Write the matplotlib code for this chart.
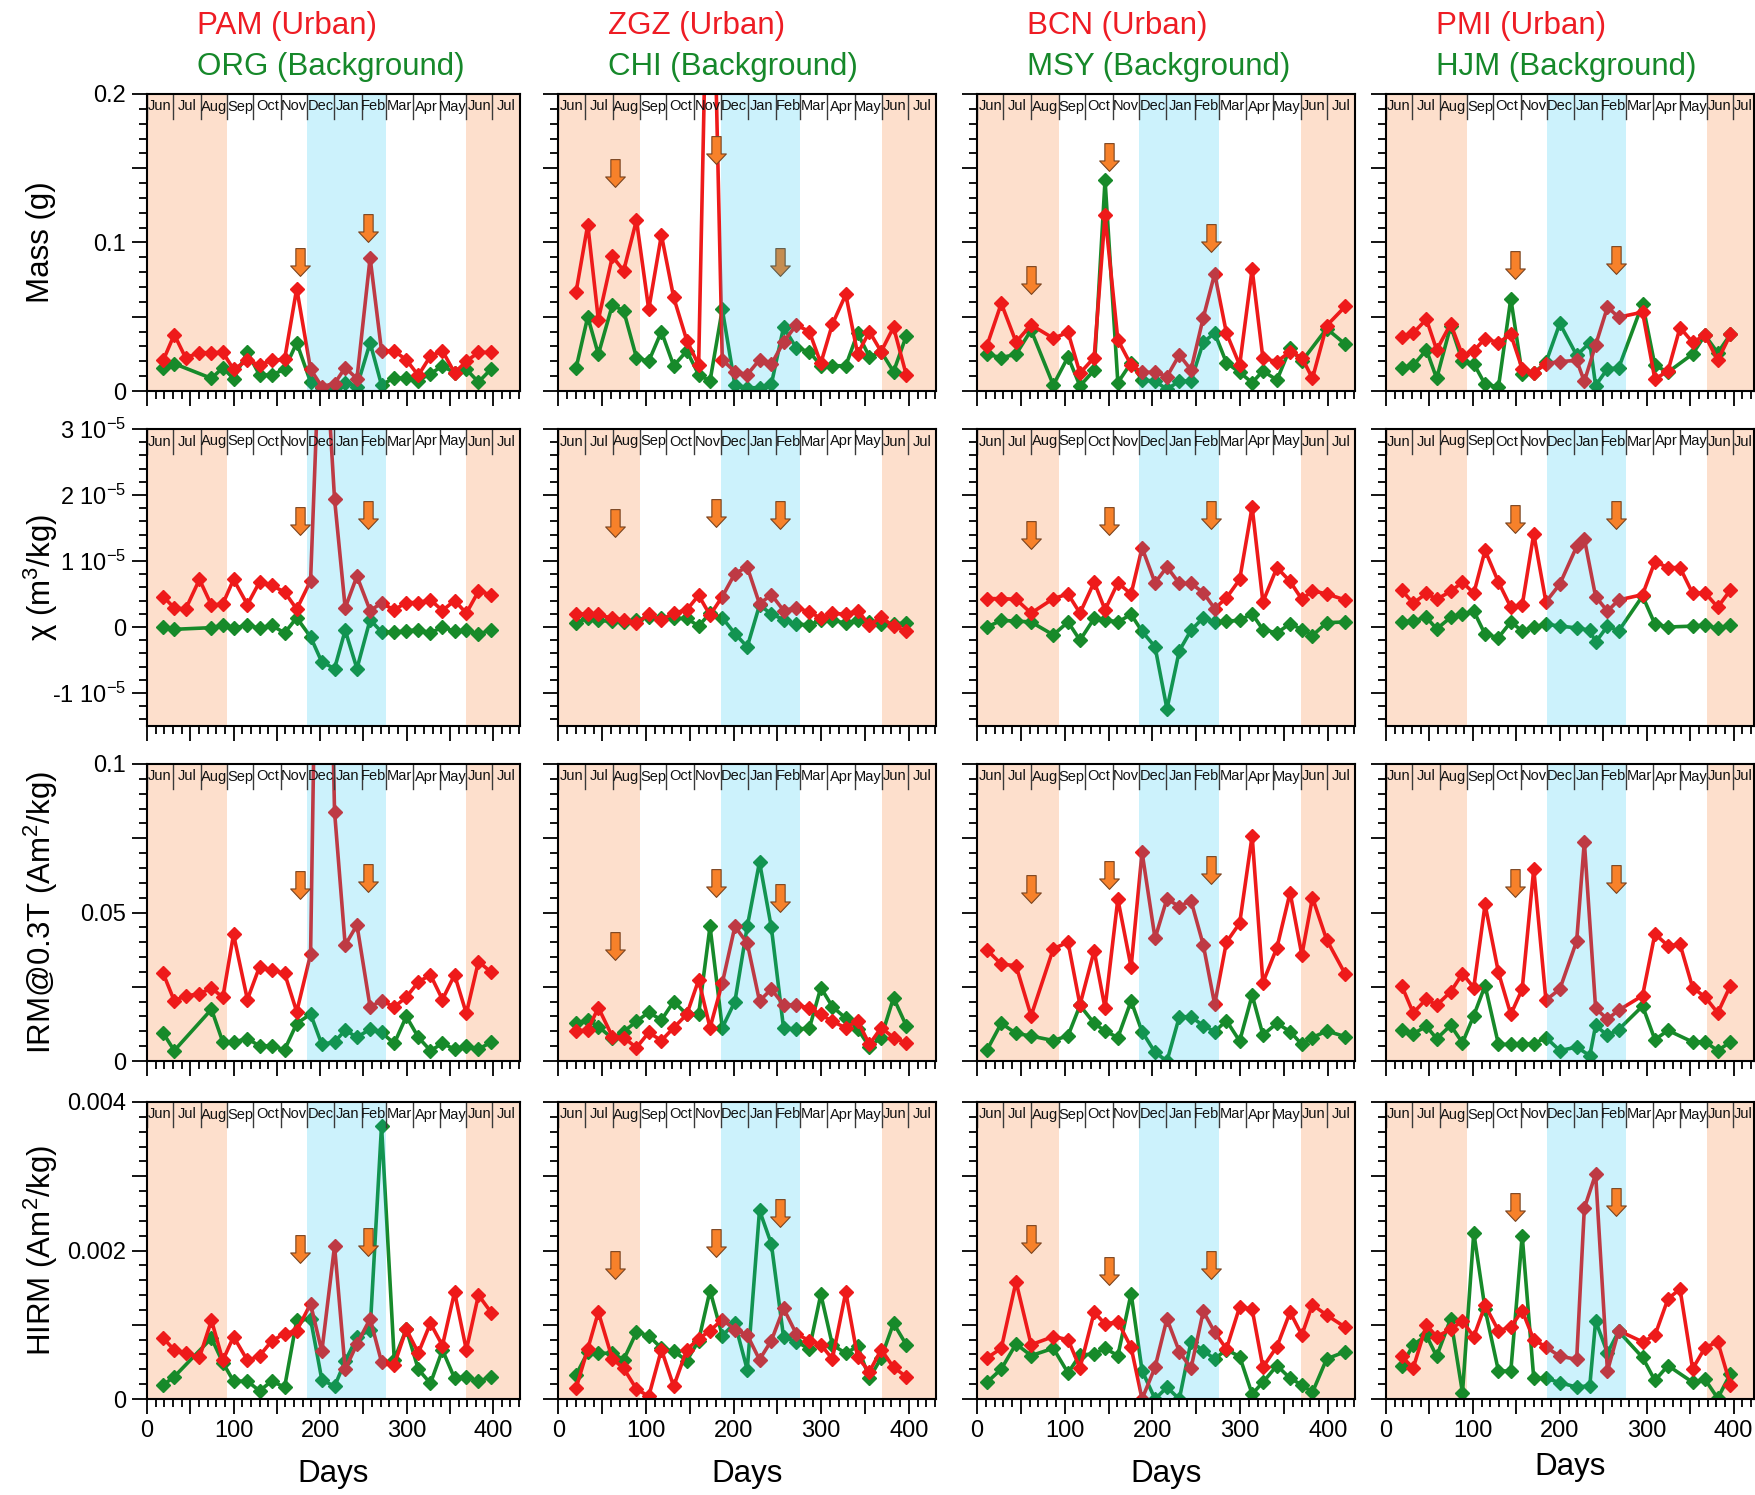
import numpy as np
import matplotlib
matplotlib.use('Agg')
import matplotlib.pyplot as plt
from matplotlib.path import Path
from matplotlib.ticker import MultipleLocator, FuncFormatter
import matplotlib.transforms as mtransforms

plt.rcParams['font.family'] = ['Liberation Sans', 'DejaVu Sans']
plt.rcParams['mathtext.default'] = 'regular'

W, H, DPI = 1756, 1495, 100
nan = np.nan

# ---------------- labels ----------------
urban_names = ['PAM (Urban)', 'ZGZ (Urban)', 'BCN (Urban)', 'PMI (Urban)']
bg_names = ['ORG (Background)', 'CHI (Background)', 'MSY (Background)', 'HJM (Background)']
row_labels = ['Mass (g)', 'χ (m$^3$/kg)', 'IRM@0.3T (Am$^2$/kg)', 'HIRM (Am$^2$/kg)']
months = ['Jun', 'Jul', 'Aug', 'Sep', 'Oct', 'Nov', 'Dec', 'Jan', 'Feb', 'Mar', 'Apr', 'May', 'Jun', 'Jul']
month_start = [0, 30, 62, 93, 123, 155, 185, 216, 248, 276, 307, 338, 369, 399]
summer_spans = [(0, 93), (369, 440)]
winter_span = (185, 276)
x_max = [431, 431, 431, 424]

# ---------------- PAM / ORG ----------------
days_pam = [18.7, 31.5, 44.6, 60.6, 74.5, 87.6, 100, 116, 130, 144, 159, 173, 189, 202,
            216.7, 229, 242.6, 257.8, 271, 285.7, 299.6, 313.5, 327.5, 341.4, 355.4, 369, 383, 398]
days_org = days_pam
pam_mass = [0.0206, 0.038, 0.0224, 0.0258, 0.0258, 0.026, 0.0146, 0.0206, 0.0175, 0.0206, 0.0213, 0.069,
            0.0146, 0.003, 0.005, 0.0157, 0.0083, 0.0897, 0.027, 0.027, 0.021, 0.0105, 0.0235, 0.027,
            0.0123, 0.020, 0.026, 0.026]
org_mass = [0.0157, 0.0184, nan, nan, 0.0085, 0.0157, 0.0083, 0.026, 0.0108, 0.0108, 0.0146, 0.0325,
            0.006, 0.002, 0.002, 0.0056, 0.003, 0.0325, 0.004, 0.009, 0.0085, 0.007, 0.0117, 0.0168,
            0.0123, 0.0146, 0.006, 0.015]
pam_chi = [0.46, 0.29, 0.27, 0.72, 0.33, 0.35, 0.72, 0.34, 0.68, 0.63, 0.53, 0.27, 0.70, 5.2, 1.94,
           0.29, 0.77, 0.25, 0.36, 0.26, 0.37, 0.37, 0.41, 0.25, 0.40, 0.21, 0.54, 0.49]
org_chi = [0.0, -0.035, nan, nan, -0.01, 0.025, -0.015, 0.025, -0.015, 0.025, -0.09, 0.14, -0.15,
           -0.53, -0.63, -0.05, -0.63, 0.11, -0.075, -0.075, -0.06, -0.04, -0.09, 0.0, -0.065, -0.05,
           -0.11, -0.04]
pam_irm = [0.0295, 0.0203, 0.0219, 0.0226, 0.0246, 0.0214, 0.0426, 0.0207, 0.0317, 0.0306, 0.0295,
           0.0166, 0.0359, 0.28, 0.084, 0.039, 0.0458, 0.0182, 0.0203, 0.0182, 0.0215, 0.0266, 0.029,
           0.0207, 0.029, 0.016, 0.0335, 0.0298]
org_irm = [0.0094, 0.0035, nan, nan, 0.0174, 0.0064, 0.0064, 0.0075, 0.0051, 0.0051, 0.0038, 0.0126,
           0.0158, 0.0056, 0.0064, 0.0104, 0.008, 0.0107, 0.0096, 0.0059, 0.015, 0.008, 0.0035, 0.0059,
           0.004, 0.0051, 0.004, 0.0064]
pam_hirm = [0.00082, 0.00066, 0.00062, 0.00056, 0.00106, 0.00052, 0.00084, 0.00052, 0.00058, 0.00078,
            0.00088, 0.00092, 0.00128, 0.00064, 0.00206, 0.0004, 0.00074, 0.00108, 0.0005, 0.00046,
            0.00094, 0.00062, 0.00102, 0.00072, 0.00144, 0.00066, 0.0014, 0.00116]
org_hirm = [0.00019, 0.0003, nan, nan, 0.00082, 0.00049, 0.00024, 0.00024, 0.00011, 0.00024, 0.00016,
            0.00106, 0.00108, 0.00026, 0.00017, 0.00051, 0.00083, 0.00093, 0.00368, 0.00053, 0.00094,
            0.0004, 0.00021, 0.00066, 0.00028, 0.0003, 0.00024, 0.0003]

# ---------------- ZGZ / CHI ----------------
days_zgz = [20, 33.4, 45.5, 61.5, 74.4, 89, 103, 117.5, 131.5, 146.5, 160, 173, 187, 201.4, 215.5,
            229.5, 243, 257, 271.5, 286.4, 299.5, 312.7, 328, 341.5, 355, 368.4, 382.5, 397]
days_chi = days_zgz
zgz_mass = [0.0665, 0.112, 0.048, 0.0906, 0.081, 0.115, 0.055, 0.105, 0.063, 0.034, 0.0175, 0.39,
            0.021, 0.013, 0.011, 0.021, 0.018, 0.033, 0.0445, 0.040, 0.0187, 0.045, 0.065, 0.025,
            0.040, 0.0265, 0.043, 0.011]
chi_mass = [0.0153, 0.050, 0.0247, 0.058, 0.054, 0.0225, 0.020, 0.040, 0.017, 0.027, 0.011, 0.0067,
            0.055, 0.004, 0.0022, 0.0022, 0.0045, 0.043, 0.029, 0.0265, 0.017, 0.017, 0.017, 0.039,
            0.023, 0.0265, 0.013, 0.037]
zgz_chi = [0.19, 0.20, 0.19, 0.13, 0.11, 0.06, 0.19, 0.11, 0.21, 0.26, 0.48, 0.18, 0.46, 0.81, 0.91,
           0.35, 0.49, 0.25, 0.29, 0.23, 0.13, 0.21, 0.19, 0.25, 0.03, 0.15, 0.01, -0.06]
chi_chi = [0.066, 0.13, 0.10, 0.086, 0.076, 0.10, 0.15, 0.13, 0.13, 0.13, 0.015, 0.21, 0.14, -0.10,
           -0.30, 0.33, 0.20, 0.11, 0.04, 0.035, 0.10, 0.10, 0.06, 0.10, 0.076, 0.04, 0.04, 0.066]
zgz_irm = [0.0101, 0.0104, 0.018, 0.0082, 0.0079, 0.0045, 0.0096, 0.0069, 0.0112, 0.0157, 0.0273,
           0.0112, 0.0262, 0.0453, 0.0397, 0.0202, 0.0242, 0.0189, 0.0189, 0.0178, 0.0157, 0.0133,
           0.0112, 0.0135, 0.0056, 0.0112, 0.0079, 0.006]
chi_irm = [0.0127, 0.0138, 0.0116, 0.0076, 0.0099, 0.0133, 0.0164, 0.0138, 0.020, 0.0157, 0.0157,
           0.0453, 0.0112, 0.020, 0.0453, 0.067, 0.045, 0.011, 0.0108, 0.011, 0.0247, 0.0183, 0.0144,
           0.0108, 0.0048, 0.0079, 0.0213, 0.0119]
zgz_hirm = [0.000144, 0.000674, 0.00117, 0.00054, 0.000413, 0.000135, 0.000036, 0.000665, 0.000171,
            0.000665, 0.00081, 0.00092, 0.00107, 0.000935, 0.000863, 0.00053, 0.000786, 0.00122,
            0.000876, 0.000786, 0.000732, 0.00054, 0.00144, 0.000562, 0.000368, 0.000665, 0.000427,
            0.000301]
chi_hirm = [0.000324, 0.000629, 0.000616, 0.000616, 0.00053, 0.000899, 0.000854, 0.000683, 0.000643,
            0.000517, 0.000786, 0.00146, 0.000854, 0.00102, 0.000395, 0.00254, 0.00209, 0.000831,
            0.000773, 0.000674, 0.00141, 0.000728, 0.000616, 0.00071, 0.000279, 0.000553, 0.00102,
            0.000732]

# ---------------- BCN / MSY ----------------
days_bcn = [11.4, 27.7, 44.5, 61.7, 87, 103.8, 117.4, 133.6, 146, 160.6, 175.7, 188.2, 203, 216.6,
            230.7, 244, 258, 271, 284.4, 299.5, 313.7, 326, 342, 357, 370.4, 382.5, 398.7, 420]
days_msy = days_bcn
bcn_mass = [0.0306, 0.059, 0.033, 0.0445, 0.0355, 0.0395, 0.012, 0.0225, 0.1186, 0.0344, 0.0175,
            0.0126, 0.0126, 0.0097, 0.0243, 0.0142, 0.0494, 0.079, 0.039, 0.0175, 0.082, 0.022,
            0.0198, 0.0265, 0.0225, 0.0085, 0.044, 0.057]
msy_mass = [0.0247, 0.0225, 0.0247, 0.041, 0.004, 0.023, 0.0034, 0.014, 0.142, 0.0056, 0.019,
            0.0074, 0.0067, 0.0011, 0.0067, 0.0067, 0.0328, 0.039, 0.019, 0.0126, 0.0056, 0.0135,
            0.0074, 0.0288, 0.020, nan, 0.042, 0.0315]
bcn_chi = [0.43, 0.43, 0.42, 0.21, 0.43, 0.50, 0.21, 0.68, 0.26, 0.67, 0.50, 1.20, 0.67, 0.91, 0.66,
           0.66, 0.52, 0.28, 0.44, 0.72, 1.82, 0.38, 0.90, 0.69, 0.42, 0.55, 0.50, 0.41]
msy_chi = [0.0, 0.10, 0.09, 0.076, -0.12, 0.076, -0.20, 0.13, 0.11, 0.076, 0.19, -0.066, -0.30, -1.24,
           -0.36, -0.05, 0.14, 0.076, 0.09, 0.10, 0.20, -0.04, -0.09, 0.05, -0.04, -0.13, 0.066, 0.076]
bcn_irm = [0.0374, 0.0326, 0.0321, 0.0152, 0.0378, 0.040, 0.0189, 0.0371, 0.0178, 0.0545, 0.0316,
           0.0703, 0.0413, 0.0546, 0.052, 0.054, 0.0391, 0.0191, 0.040, 0.0464, 0.0758, 0.0264,
           0.0382, 0.0567, 0.0357, 0.055, 0.0408, 0.0292]
msy_irm = [0.0037, 0.0127, 0.0093, 0.0084, 0.0069, 0.0085, 0.0187, 0.0127, 0.0101, 0.0079, 0.0202,
           0.0099, 0.0029, 0.0, 0.0149, 0.0149, 0.0119, 0.0099, 0.0136, 0.0067, 0.0222, 0.0088,
           0.0127, 0.0099, 0.0056, 0.0079, 0.0101, 0.0082]
bcn_hirm = [0.000553, 0.000683, 0.00158, 0.000732, 0.00084, 0.0008, 0.000418, 0.00117, 0.00101,
            0.00104, 0.000697, 0.0, 0.000427, 0.00108, 0.000638, 0.000413, 0.00118, 0.000899,
            0.000674, 0.00124, 0.00121, 0.000427, 0.000706, 0.00117, 0.000863, 0.00127, 0.00113,
            0.000966]
msy_hirm = [0.000225, 0.000404, 0.000742, 0.000584, 0.000683, 0.000351, 0.000593, 0.000607,
            0.000683, 0.000584, 0.00142, 0.000382, 0.0, 0.000157, 0.0, 0.000773, 0.000652, 0.00054,
            0.000665, 0.000571, 0.000067, 0.000225, 0.00045, 0.000279, 0.000189, 0.00009, 0.00054,
            0.000638]

# ---------------- PMI / HJM ----------------
days_pmi = [18, 31.3, 46.5, 58.3, 74.4, 88, 101, 114, 129.4, 143.6, 156.7, 170, 184, 200, 219.4,
            228.2, 241.2, 254.8, 267.7, 295.2, 309.4, 324.5, 338.3, 352.8, 367, 381.7, 396.3]
days_hjm = [18, 31.3, 46.5, 58.3, 74.4, 88, 101, 114, 129.4, 143.6, 156.7, 170, 184, 200, 219.4,
            234.5, 241.2, 254.8, 267.7, 295.2, 309.4, 324.5, 352.8, 367, 381.7, 396.3]
pmi_mass = [0.0362, 0.039, 0.0483, 0.0277, 0.0452, 0.024, 0.0271, 0.0353, 0.0325, 0.0381, 0.015,
            0.0121, 0.0184, 0.0198, 0.0206, 0.0065, 0.031, 0.0565, 0.0497, 0.0531, 0.0079, 0.0136,
            0.0427, 0.0328, 0.0376, 0.0206, 0.0381]
hjm_mass = [0.0158, 0.0172, 0.0277, 0.0085, 0.0438, 0.020, 0.0184, 0.0045, 0.0028, 0.0622, 0.0113,
            0.0121, 0.0192, 0.0455, 0.024, 0.0325, 0.0037, 0.015, 0.0155, 0.0588, 0.0172, 0.0127,
            0.0249, 0.0376, 0.0257, 0.0381]
pmi_chi = [0.56, 0.36, 0.51, 0.42, 0.54, 0.68, 0.51, 1.16, 0.68, 0.30, 0.33, 1.41, 0.38, 0.65, 1.22,
           1.34, 0.46, 0.24, 0.41, 0.49, 0.99, 0.90, 0.90, 0.51, 0.52, 0.30, 0.56]
hjm_chi = [0.076, 0.095, 0.146, -0.03, 0.146, 0.19, 0.24, -0.11, -0.16, 0.076, -0.06, 0.0, 0.044,
           0.013, -0.013, -0.05, -0.23, 0.013, -0.06, 0.47, 0.044, 0.0, 0.013, 0.03, -0.02, 0.03]
pmi_irm = [0.0254, 0.0162, 0.0209, 0.0188, 0.0233, 0.0294, 0.0247, 0.0527, 0.0298, 0.0157, 0.0242,
           0.0647, 0.0205, 0.0242, 0.0404, 0.0739, 0.0177, 0.0141, 0.0171, 0.022, 0.0428, 0.0388,
           0.0393, 0.0247, 0.0216, 0.0162, 0.0254]
hjm_irm = [0.0103, 0.0092, 0.0117, 0.0075, 0.012, 0.0061, 0.0153, 0.0254, 0.0056, 0.0056, 0.0058,
           0.0058, 0.0079, 0.0035, 0.0047, 0.0018, 0.012, 0.0086, 0.0106, 0.0185, 0.0072, 0.0103,
           0.0064, 0.0065, 0.0035, 0.0064]
pmi_hirm = [0.000575, 0.000417, 0.000997, 0.00084, 0.00094, 0.00105, 0.00084, 0.00126, 0.00092,
            0.00097, 0.00119, 0.0008, 0.0007, 0.000575, 0.000535, 0.00257, 0.00303, 0.000377, 0.00092,
            0.00077, 0.000856, 0.00135, 0.00148, 0.000406, 0.00069, 0.00077, 0.00019]
hjm_hirm = [0.000445, 0.00073, 0.000856, 0.000575, 0.00108, 0.000085, 0.00224, 0.00121, 0.000377,
            0.000377, 0.0022, 0.00028, 0.00028, 0.00022, 0.00016, 0.00018, 0.00105, 0.00062, 0.00091,
            0.00056, 0.00025, 0.00045, 0.000225, 0.000265, 0.00001, 0.00034]

# ---------------- arrows (day, centre value) per column / row ----------------
arrow_days = [[177, 255], [65, 180, 253], [62, 150, 267], [149, 265]]
arrows_mass = [[0.087, 0.110], [0.147, 0.1625, 0.087], [0.075, 0.1575, 0.103], [0.085, 0.088]]
arrows_chi = [[1.6, 1.7], [1.57, 1.72, 1.69], [1.4, 1.6, 1.7], [1.63, 1.7]]
arrows_irm = [[0.0594, 0.0617], [0.0387, 0.060, 0.055], [0.058, 0.0627, 0.0644], [0.060, 0.0612]]
arrows_hirm = [[0.00202, 0.00212], [0.0018, 0.0021, 0.0025], [0.00216, 0.00173, 0.0018],
               [0.00258, 0.00265]]
shaded_arrow = (0, 1, 2)  # (row, col, index) of the arrow seen through the winter shading

CHI_UNIT = 1e-5

urban = [
    [pam_mass, pam_chi, pam_irm, pam_hirm],
    [zgz_mass, zgz_chi, zgz_irm, zgz_hirm],
    [bcn_mass, bcn_chi, bcn_irm, bcn_hirm],
    [pmi_mass, pmi_chi, pmi_irm, pmi_hirm],
]
background = [
    [org_mass, org_chi, org_irm, org_hirm],
    [chi_mass, chi_chi, chi_irm, chi_hirm],
    [msy_mass, msy_chi, msy_irm, msy_hirm],
    [hjm_mass, hjm_chi, hjm_irm, hjm_hirm],
]
urban_days = [days_pam, days_zgz, days_bcn, days_pmi]
bg_days = [days_org, days_chi, days_msy, days_hjm]
arrow_vals = [arrows_mass, arrows_chi, arrows_irm, arrows_hirm]

row_cfg = [
    dict(lim=(0, 0.2), major=0.05, minor=0.01, scale=1.0,
         labels={0: '0', 0.1: '0.1', 0.2: '0.2'}),
    dict(lim=(-1.5e-5, 3e-5), major=1e-5, minor=0.2e-5, scale=CHI_UNIT,
         labels={3e-5: '3 10$^{-5}$', 2e-5: '2 10$^{-5}$', 1e-5: '1 10$^{-5}$', 0: '0',
                 -1e-5: '-1 10$^{-5}$'}),
    dict(lim=(0, 0.1), major=0.025, minor=0.005, scale=1.0,
         labels={0: '0', 0.05: '0.05', 0.1: '0.1'}),
    dict(lim=(0, 0.004), major=0.001, minor=0.0002, scale=1.0,
         labels={0: '0', 0.002: '0.002', 0.004: '0.004'}),
]

# ---------------- styling ----------------
RED = '#ee1a1a'
GREEN = '#178a2a'
TITLE_RED = '#ee1c24'
TITLE_GREEN = '#16882a'
SUMMER = '#fddfcc'
WINTER_OVERLAY = '#00bef0'
ARROW_FACE = '#f7812a'
ARROW_EDGE = '#7a4420'

col_left = [147, 558.5, 977, 1386]
col_width = [373, 377.5, 378, 368.5]
row_top = [94, 429, 764, 1102]
row_h = 297

arrow_path = Path([(-0.167, 0.5), (0.167, 0.5), (0.167, -0.125), (0.354, -0.125), (0, -0.5),
                   (-0.354, -0.125), (-0.167, -0.125), (-0.167, 0.5)],
                  [Path.MOVETO] + [Path.LINETO] * 6 + [Path.CLOSEPOLY])

fig = plt.figure(figsize=(W / DPI, H / DPI), dpi=DPI)
fig.patch.set_facecolor('white')


def make_formatter(labels):
    def f(v, pos):
        for k, s in labels.items():
            if abs(v - k) < 1e-12 + abs(k) * 1e-6:
                return s
        return ''
    return FuncFormatter(f)


def draw_series(ax, d, v, color, scale):
    d = np.asarray(d, float)
    v = np.asarray(v, float) * scale
    m = ~np.isnan(v)
    ax.plot(d[m], v[m], color=color, lw=2.6, marker='D', ms=7, mfc=color, mec=color, mew=1,
            zorder=3, solid_joinstyle='miter')


for r in range(4):
    cfg = row_cfg[r]
    for c in range(4):
        left = col_left[c] / W
        bottom = (H - row_top[r] - row_h) / H
        ax = fig.add_axes([left, bottom, col_width[c] / W, row_h / H])
        ax.set_xlim(0, x_max[c])
        ax.set_ylim(*cfg['lim'])
        ax.set_facecolor('white')

        for a, b in summer_spans:
            ax.axvspan(a, b, color=SUMMER, lw=0, zorder=0)
        ax.axvspan(*winter_span, color=WINTER_OVERLAY, alpha=0.2, lw=0, zorder=5)

        draw_series(ax, bg_days[c], background[c][r], GREEN, cfg['scale'])
        draw_series(ax, urban_days[c], urban[c][r], RED, cfg['scale'])

        for i, (ad, av) in enumerate(zip(arrow_days[c], arrow_vals[r][c])):
            z = 4 if (r, c, i) == shaded_arrow else 7
            ax.plot([ad], [av * cfg['scale']], linestyle='none', marker=arrow_path, ms=20,
                    mfc=ARROW_FACE, mec=ARROW_EDGE, mew=0.8, zorder=z)

        # month strip
        trans = mtransforms.blended_transform_factory(ax.transData, ax.transAxes)
        strip = 25 / row_h
        bounds = month_start + [x_max[c]]
        for k, b in enumerate(month_start):
            ax.plot([b, b], [1 - strip, 1], transform=trans, color='#3a3a3a', lw=1.0, zorder=6)
            ax.text((bounds[k] + bounds[k + 1]) / 2, 1 - strip / 2, months[k], transform=trans,
                    ha='center', va='center', fontsize=10.5, color='#111111', zorder=8,
                    clip_on=True)

        # ticks
        ax.yaxis.set_major_locator(MultipleLocator(cfg['major']))
        ax.yaxis.set_minor_locator(MultipleLocator(cfg['minor']))
        ax.xaxis.set_major_locator(MultipleLocator(50))
        ax.xaxis.set_minor_locator(MultipleLocator(10))
        ax.tick_params(axis='both', which='major', direction='out', length=11, width=1.3,
                       labelsize=17, pad=4, color='black')
        ax.tick_params(axis='both', which='minor', direction='out', length=5.5, width=1.3,
                       color='black')
        ax.tick_params(top=False, right=False, which='both')
        if c == 0:
            ax.yaxis.set_major_formatter(make_formatter(cfg['labels']))
        else:
            ax.yaxis.set_major_formatter(FuncFormatter(lambda v, p: ''))
        if r == 3:
            ax.xaxis.set_major_formatter(
                FuncFormatter(lambda v, p: f'{int(round(v))}' if abs(v % 100) < 1e-6 else ''))
        else:
            ax.xaxis.set_major_formatter(FuncFormatter(lambda v, p: ''))
        for s in ax.spines.values():
            s.set_linewidth(1.5)
            s.set_color('black')
            s.set_zorder(9)

        if r == 0:
            fig.text((col_left[c] + 50) / W, 1 - 26 / H, urban_names[c], color=TITLE_RED,
                     fontsize=22.5, ha='left', va='center')
            fig.text((col_left[c] + 50) / W, 1 - 67 / H, bg_names[c], color=TITLE_GREEN,
                     fontsize=22.5, ha='left', va='center')
        if r == 3:
            ydays = 1467 if c == 3 else 1474
            fig.text((col_left[c] + col_width[c] / 2) / W, 1 - ydays / H, 'Days', fontsize=22.5,
                     ha='center', va='center')
    fig.text(41 / W, 1 - (row_top[r] + row_h / 2) / H, row_labels[r], fontsize=22.5, rotation=90,
             ha='center', va='center')

fig.savefig('out.png', dpi=DPI, facecolor='white')
